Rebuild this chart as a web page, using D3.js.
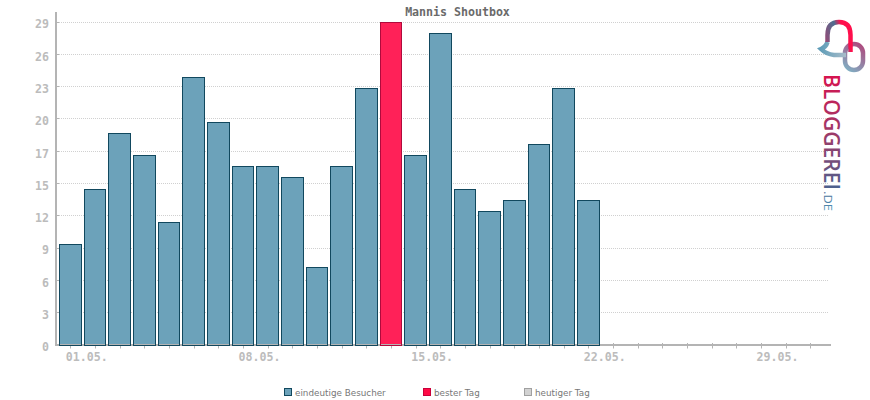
<!DOCTYPE html>
<html><head><meta charset="utf-8">
<script src="https://cdnjs.cloudflare.com/ajax/libs/d3/7.8.5/d3.min.js"></script>
<style>html,body{margin:0;padding:0;background:#fff}svg{display:block}</style></head>
<body><svg id="c" width="870" height="400"></svg>
<script>
const days = d3.range(1, 32);
const visitors = [9,14,19,17,11,24,20,16,16,15,7,16,23,29,17,28,14,12,13,18,23,13];
const bestDay = 14;
const yTicks = [0,2.9,5.8,8.7,11.6,14.5,17.4,20.3,23.2,26.1,29];
const yLabels = ["0","3","6","9","12","15","17","20","23","26","29"];
const xLabelDays = [1,8,15,22,29];
const xLabels = ["01.05.","08.05.","15.05.","22.05.","29.05."];
const legendNames = ["eindeutige Besucher","bester Tag","heutiger Tag"];
const legendFill = ["#6ca2ba","#ff0a46","#d2d2d2"];
const legendStroke = ["#11485e","#c9003a","#a0a0a0"];
const legendX = [284,423,524];
const titleText = "Mannis Shoutbox";

const mono = "'DejaVu Sans Mono','Liberation Mono',monospace";
const svg = d3.select("#c");
const x = d3.scaleBand().domain(days).range([59,821.7]).paddingInner(0.083).paddingOuter(0);
const y = d3.scaleLinear().domain([0,29]).range([345,22]);
const cx = d => x(d)+x.bandwidth()/2;
const row = v => Math.min(344,Math.floor(y(v)))+.5;

// grid
svg.append("g").selectAll("line").data(yTicks.slice(1)).join("line")
  .attr("x1",57).attr("x2",829).attr("y1",row).attr("y2",row)
  .attr("stroke","#d0d0d0").attr("stroke-width",1).attr("stroke-dasharray","1 1");

// axes and ticks (behind bars)
svg.append("rect").attr("x",55).attr("y",12).attr("width",2).attr("height",334).attr("fill","#b4b4b4");
svg.append("rect").attr("x",55).attr("y",344).attr("width",776).attr("height",2).attr("fill","#b4b4b4");
svg.append("g").selectAll("line").data(yTicks).join("line")
  .attr("x1",57).attr("x2",59).attr("y1",row).attr("y2",row).attr("stroke","#b4b4b4");
svg.append("g").selectAll("line").data(days).join("line")
  .attr("x1",d=>Math.round(cx(d))+.5).attr("x2",d=>Math.round(cx(d))+.5).attr("y1",343).attr("y2",348.5)
  .attr("stroke","#b4b4b4");

// bars
const barL = i => Math.round(x(i+1))+.5;
const barR = i => Math.round(x(i+1)+x.bandwidth())-.5;
svg.append("g").selectAll("rect").data(visitors).join("rect")
  .attr("x",(d,i)=>barL(i)).attr("width",(d,i)=>barR(i)-barL(i))
  .attr("y",d=>Math.floor(y(d))+.5).attr("height",d=>345-Math.floor(y(d)))
  .attr("fill",(d,i)=>i+1===bestDay?"#ff2158":"#6ca2ba")
  .attr("stroke",(d,i)=>i+1===bestDay?"#b00a3c":"#11485e").attr("stroke-width",1);
svg.append("g").selectAll("line").data(visitors).join("line")
  .attr("x1",(d,i)=>barL(i)+.5).attr("x2",(d,i)=>barR(i)-.5).attr("y1",344.5).attr("y2",344.5)
  .attr("stroke","#b4b4b4");

// tick labels
svg.append("g").selectAll("text").data(yLabels).join("text")
  .attr("x",49).attr("y",(d,i)=>y(yTicks[i])+6.3).attr("text-anchor","end")
  .attr("font-family",mono).attr("font-weight","bold").attr("font-size",11.6).attr("fill","#bcbcbc").text(d=>d);
svg.append("g").selectAll("text").data(xLabels).join("text")
  .attr("x",(d,i)=>cx(xLabelDays[i])-4.5).attr("y",360.5)
  .attr("font-family",mono).attr("font-weight","bold").attr("font-size",11.6).attr("fill","#bcbcbc").text(d=>d);

// title
svg.append("text").attr("x",457.5).attr("y",16).attr("text-anchor","middle")
  .attr("font-family",mono).attr("font-weight","bold").attr("font-size",11.6).attr("fill","#6a6a6a").text(titleText);

// legend
const lg = svg.append("g").selectAll("g").data(legendNames).join("g")
  .attr("transform",(d,i)=>`translate(${legendX[i]},388)`);
lg.append("rect").attr("x",.5).attr("y",.5).attr("width",7).attr("height",7)
  .attr("fill",(d,i)=>legendFill[i]).attr("stroke",(d,i)=>legendStroke[i]);
lg.append("text").attr("x",11).attr("y",7.5).attr("font-family","'DejaVu Sans',sans-serif")
  .attr("font-size",8.8).attr("fill","#777").text(d=>d);

// logo
const defs = svg.append("defs");
const grad = (id,x1,y1,x2,y2,stops) => {
  const g = defs.append("linearGradient").attr("id",id).attr("gradientUnits","userSpaceOnUse")
    .attr("x1",x1).attr("y1",y1).attr("x2",x2).attr("y2",y2);
  stops.forEach(s=>g.append("stop").attr("offset",s[0]).attr("stop-color",s[1]));
};
grad("lt",0,0,137,0,[[0,"#d8134e"],[.5,"#93406c"],[.82,"#4f5f8c"],[1,"#4f93b4"]]);
grad("la",825,40,852,30,[[0,"#964a76"],[.5,"#4d6d90"],[.72,"#ff0f4c"],[1,"#ff0f4c"]]);
grad("lb",846,70,864,44,[[0,"#7fb0c4"],[1,"#b0447a"]]);
grad("lc",820,50,846,54,[[0,"#5f9db8"],[1,"#a7bcc9"]]);
const logo = svg.append("g").attr("fill","none").attr("stroke-width",4.5);
logo.append("rect").attr("x",845).attr("y",44).attr("width",18).attr("height",26).attr("rx",9).attr("stroke","url(#lb)");
logo.append("path").attr("d","M827.5 42 Q826 47 821 49 Q826 54 834 55 H846").attr("stroke","url(#lc)");
logo.append("path").attr("d","M827.5 42 V35 Q827.5 22 839 22 Q850.5 22 850.5 35 V52").attr("stroke","url(#la)");
const lt = svg.append("g").attr("transform","translate(824,74) rotate(90)")
  .attr("font-family","'Open Sans',sans-serif").attr("fill","url(#lt)");
lt.append("text").attr("font-size",21).attr("font-weight",600)
  .attr("textLength",116).attr("lengthAdjust","spacingAndGlyphs").text("BLOGGEREI");
lt.append("text").attr("x",117).attr("font-size",11).attr("font-weight",400)
  .attr("textLength",20).attr("lengthAdjust","spacingAndGlyphs").text(".DE");
</script></body></html>
